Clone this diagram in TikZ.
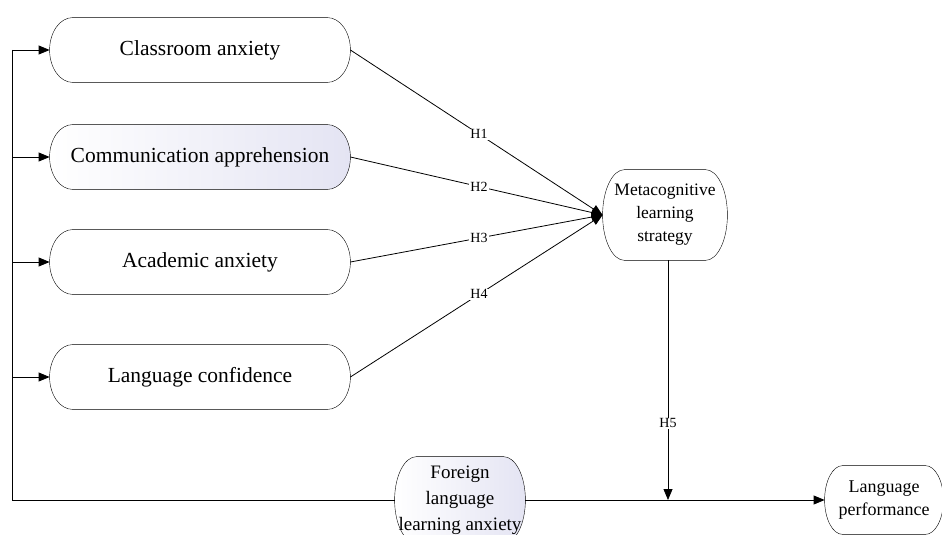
\documentclass[tikz,border=0pt]{standalone}
\usepackage{fontspec}
\setmainfont{Liberation Serif}
\usetikzlibrary{arrows.meta,calc,backgrounds}

\definecolor{lavender}{RGB}{228,228,243}

\begin{document}
\begin{tikzpicture}[x=1pt, y=-1pt, line width=0.8pt,
                    factor/.style={minimum width=300pt, minimum height=64pt, inner sep=0pt, font=\fontsize{21.5}{26}\selectfont},
                    tallbox/.style={align=center, inner sep=0pt},
                    plain/.style={fill=white},
                    tinted/.style={left color=white, right color=lavender},
                    hyp/.style={fill=white, inner sep=1pt, font=\fontsize{14}{16}\selectfont},
                    arr/.style={-{Triangle[length=11pt,width=9pt]}}]
                \useasboundingbox (0,0) rectangle (942,535);
                \node[factor] (class) at (200,50) {Classroom anxiety};
                \node[factor] (comm) at (200,157) {Communication apprehension};
                \node[factor] (acad) at (200,262) {Academic anxiety};
                \node[factor] (conf) at (200,377) {Language confidence};
                \node[tallbox, minimum width=124pt, minimum height=90pt, font=\fontsize{17.5}{23}\selectfont] (meta) at (665,215) {Metacognitive\\learning\\strategy};
                \node[tallbox, minimum width=130pt, minimum height=86pt, font=\fontsize{19}{26}\selectfont] (fla) at (460,500) {Foreign\\language\\\makebox[0pt]{learning anxiety}};
                \node[tallbox, minimum width=118pt, minimum height=68pt, font=\fontsize{18}{23}\selectfont] (perf) at (884,500) {Language\\performance};
                \begin{scope}[on background layer]
                    \foreach \nd/\rx/\st in {class/23/plain, comm/23/tinted, acad/23/plain, conf/23/plain, meta/22/plain, fla/22/tinted, perf/18/plain}
                        \draw[\st] let \p1=(\nd.north), \p2=(\nd.south), \n1={(\y1-\y2)/2} in
                            ([xshift=\rx pt]\nd.north west) -- ([xshift=-\rx pt]\nd.north east)
                            arc[start angle=90, end angle=-90, x radius=\rx pt, y radius=\n1]
                            -- ([xshift=\rx pt]\nd.south west)
                            arc[start angle=270, end angle=90, x radius=\rx pt, y radius=\n1] -- cycle;
                \end{scope}
                \coordinate (top) at (12,50);
                \coordinate (corner) at (12,500);
                \draw (top) -- (corner) -- (fla.west);
                \draw[arr] (top) -- (class.west);
                \draw[arr] (corner |- comm) -- (comm.west);
                \draw[arr] (corner |- acad) -- (acad.west);
                \draw[arr] (corner |- conf) -- (conf.west);
                \draw[arr] (class.east) -- node[hyp, pos=0.51] {H1} (meta.west);
                \draw[arr] (comm.east) -- node[hyp, pos=0.51] {H2} (meta.west);
                \draw[arr] (acad.east) -- node[hyp, pos=0.51] {H3} (meta.west);
                \draw[arr] (conf.east) -- node[hyp, pos=0.51] {H4} (meta.west);
                \draw[arr] (fla.east) -- (perf.west);
                \draw[arr] ([xshift=3pt]meta.south) -- node[hyp, pos=0.68] {H5} ([xshift=3pt]meta.south |- perf.west);
            \end{tikzpicture}
\end{document}
